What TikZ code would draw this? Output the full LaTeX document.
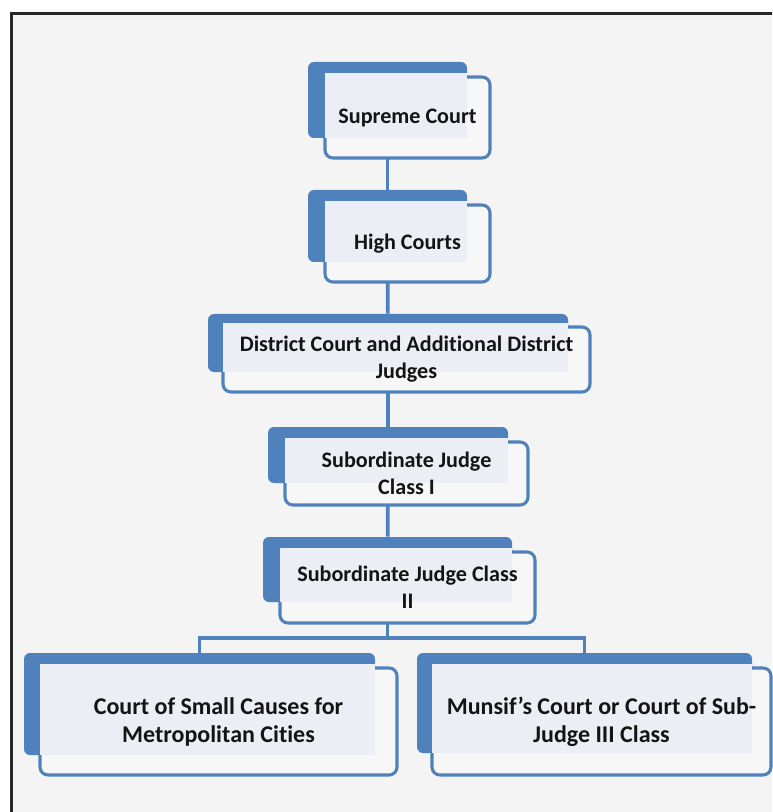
\documentclass[tikz,border=0pt]{standalone}
\usepackage{fontspec}
\setmainfont{Carlito}[Ligatures={NoCommon}]
\usetikzlibrary{fit}
\pgfdeclarelayer{bg}
\pgfdeclarelayer{connlayer}
\pgfsetlayers{bg,connlayer,main}
\definecolor{oblue}{HTML}{4F81BD}
\definecolor{pagebg}{HTML}{F4F4F4}
\definecolor{frontbg}{HTML}{F7F7F7}
\definecolor{tint}{HTML}{EBEEF4}
\definecolor{frame}{HTML}{262626}
\tikzset{
  backbox/.style={fill=oblue, rounded corners=4.5pt, inner sep=0pt, draw=none},
  frontbox/.style={fill=frontbg, draw=oblue, line width=2.3pt, rounded corners=6pt, inner sep=0pt},
  tintbox/.style={fill=tint},
  lbl/.style={font=\bfseries\fontsize{16.6}{20.3}\selectfont, align=center, text=black!92, inner sep=0pt},
  lblbig/.style={font=\bfseries\fontsize{18}{21}\selectfont, align=center, text=black!92, inner sep=0pt},
  conn/.style={draw=oblue, line width=2.8pt},
}
% #1 name, #2 back nw, #3 back se, #4 front nw, #5 front se, #6 label style, #7 text
\newcommand{\tierbox}[7]{%
  \node[backbox, fit={#2 #3}] (#1b) {};
  \node[frontbox, fit={#4 #5}] (#1) {};
  \fill[tintbox] ([shift={(2,-2)}]#1.north west) rectangle (#1b.south east);
  \node[#6] (#1t) at (#1.center) {#7};
}
\begin{document}
\begin{tikzpicture}[x=0.75pt, y=-0.75pt]
\useasboundingbox (0,0) rectangle (772,812);
\begin{pgfonlayer}{bg}
  \fill[white] (0,0) rectangle (772,812);
  \begin{scope}
    \clip (0,0) rectangle (772,812);
    \draw[fill=pagebg, draw=frame, line width=2.2pt] (11.5,13.5) rectangle (800,840);
  \end{scope}
\end{pgfonlayer}

\tierbox{sc}{(308,62)}{(467,138)}{(325,77)}{(490,158)}{lbl}{Supreme Court}
\tierbox{hc}{(308,190)}{(467,262)}{(325,205)}{(490,282)}{lbl}{High Courts}
\tierbox{dc}{(208,314)}{(568,372)}{(223,327)}{(590,392)}{lbl}{District Court and Additional District\\Judges}
\tierbox{sja}{(268,427)}{(508,483)}{(285,442)}{(528,505)}{lbl}{Subordinate Judge\\Class I}
\tierbox{sjb}{(263,537)}{(512,602)}{(280,552)}{(535,623)}{lbl}{Subordinate Judge Class\\II}
\tierbox{cs}{(24,653)}{(375,755)}{(40,668)}{(397,775)}{lblbig}{Court of Small Causes for\\Metropolitan Cities}
\tierbox{mc}{(417,653)}{(752,753)}{(432,668)}{(771,775)}{lblbig}{Munsif's Court or Court of Sub-\\Judge III Class}

\coordinate (split) at (388,638);
\begin{pgfonlayer}{connlayer}
  \draw[conn] (scb) -- (hcb);
  \draw[conn] (hcb) -- (dcb);
  \draw[conn] (dcb) -- (sjab);
  \draw[conn] (sjab) -- (sjbb);
  \draw[conn] (sjbb.south) -- (sjbb.south |- split);
  \draw[conn] (csb.north) -- (csb.north |- split) -| (mcb.north);
\end{pgfonlayer}
\end{tikzpicture}
\end{document}
